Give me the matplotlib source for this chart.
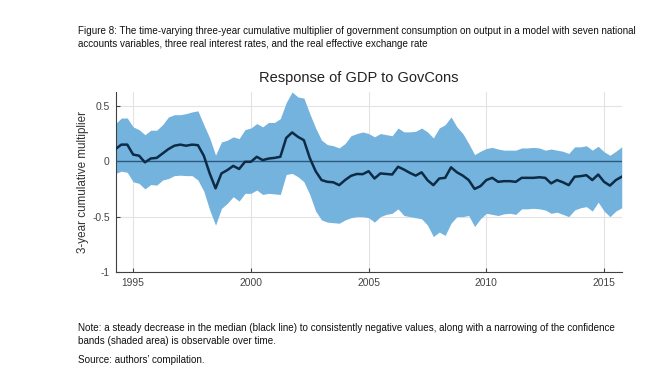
import numpy as np
import matplotlib
matplotlib.use("Agg")
import matplotlib.pyplot as plt

plt.rcParams['font.family'] = ['Liberation Sans', 'DejaVu Sans']

# quarterly observations 1994Q2 .. 2015Q4
start_year = 1994.25
median = [0.11, 0.15, 0.15, 0.06, 0.05, -0.01, 0.025, 0.03, 0.07, 0.11,
          0.14, 0.15, 0.14, 0.15, 0.145, 0.05, -0.11, -0.245, -0.11, -0.08,
          -0.042, -0.07, -0.005, -0.005, 0.04, 0.01, 0.024, 0.03, 0.04, 0.21,
          0.26, 0.22, 0.19, 0.03, -0.09, -0.17, -0.186, -0.19, -0.216, -0.17,
          -0.132, -0.115, -0.117, -0.09, -0.156, -0.11, -0.115, -0.12, -0.05, -0.075,
          -0.105, -0.13, -0.10, -0.171, -0.216, -0.156, -0.15, -0.055, -0.10, -0.13,
          -0.17, -0.25, -0.225, -0.17, -0.15, -0.186, -0.18, -0.18, -0.186, -0.15,
          -0.15, -0.15, -0.145, -0.15, -0.20, -0.17, -0.19, -0.216, -0.14, -0.135,
          -0.126, -0.17, -0.12, -0.186, -0.22, -0.17, -0.14]
upper = [0.34, 0.39, 0.39, 0.31, 0.285, 0.24, 0.28, 0.28, 0.33, 0.40,
         0.42, 0.42, 0.43, 0.445, 0.455, 0.33, 0.21, 0.055, 0.174, 0.19,
         0.22, 0.204, 0.285, 0.30, 0.34, 0.31, 0.35, 0.35, 0.385, 0.53,
         0.625, 0.58, 0.57, 0.43, 0.30, 0.19, 0.15, 0.14, 0.12, 0.16,
         0.23, 0.25, 0.264, 0.25, 0.22, 0.25, 0.24, 0.23, 0.30, 0.265,
         0.265, 0.27, 0.30, 0.264, 0.21, 0.30, 0.33, 0.40, 0.31, 0.25,
         0.16, 0.06, 0.09, 0.115, 0.125, 0.11, 0.10, 0.10, 0.10, 0.12,
         0.12, 0.125, 0.12, 0.10, 0.11, 0.10, 0.09, 0.07, 0.13, 0.13,
         0.14, 0.10, 0.135, 0.085, 0.054, 0.09, 0.13]
lower = [-0.11, -0.09, -0.10, -0.186, -0.20, -0.25, -0.21, -0.216, -0.17, -0.156,
         -0.13, -0.126, -0.13, -0.13, -0.17, -0.27, -0.44, -0.577, -0.426, -0.38,
         -0.32, -0.36, -0.29, -0.29, -0.26, -0.30, -0.29, -0.295, -0.30, -0.12,
         -0.11, -0.14, -0.185, -0.30, -0.45, -0.53, -0.55, -0.555, -0.56, -0.53,
         -0.51, -0.50, -0.50, -0.51, -0.55, -0.50, -0.48, -0.47, -0.43, -0.49,
         -0.50, -0.51, -0.52, -0.577, -0.68, -0.64, -0.67, -0.56, -0.50, -0.50,
         -0.49, -0.59, -0.52, -0.47, -0.48, -0.49, -0.475, -0.47, -0.48, -0.43,
         -0.43, -0.425, -0.43, -0.44, -0.47, -0.46, -0.48, -0.50, -0.44, -0.42,
         -0.41, -0.45, -0.37, -0.45, -0.50, -0.45, -0.42]
years = start_year + 0.25 * np.arange(len(median))

xticks = [1995, 2000, 2005, 2010, 2015]
yticks = [-1, -0.5, 0, 0.5]
ytick_labels = ['-1', '-0.5', '0', '0.5']

title = "Response of GDP to GovCons"
ylabel = "3-year cumulative multiplier"
caption = ("Figure 8: The time-varying three-year cumulative multiplier of government consumption on output in a model with seven national\n"
           "accounts variables, three real interest rates, and the real effective exchange rate")
note = ("Note: a steady decrease in the median (black line) to consistently negative values, along with a narrowing of the confidence\n"
        "bands (shaded area) is observable over time.")
source = "Source: authors\u2019 compilation."

fig = plt.figure(figsize=(6.45, 3.67), dpi=100)
ax = fig.add_axes([0.1798, 0.2589, 0.7845, 0.4904])

ax.fill_between(years, lower, upper, color='#74b3de', lw=0, zorder=2)
ax.axhline(0, color='#2b5a80', lw=1.0, zorder=3)
ax.plot(years, median, color='#0d2b45', lw=1.8, zorder=4)

ax.set_xlim(1994.27, 2015.76)
ax.set_ylim(-1, 0.625)
ax.set_xticks(xticks)
ax.set_yticks(yticks)
ax.set_yticklabels(ytick_labels)
ax.grid(True, color='#e3e3e3', lw=0.8, zorder=0)
ax.set_axisbelow(True)
for s in ['top', 'right']:
    ax.spines[s].set_visible(False)
for s in ['left', 'bottom']:
    ax.spines[s].set_color('#404040')
    ax.spines[s].set_linewidth(0.8)
ax.tick_params(direction='in', length=3, width=0.8, color='#404040',
               labelsize=7.4, labelcolor='#444444', pad=4.5)
ax.set_title(title, fontsize=10.5, color='#222222', pad=7, x=0.48)
ax.set_ylabel(ylabel, fontsize=8.4, color='#333333', labelpad=2)

fig.text(0.121, 0.93, caption, fontsize=7.08, color='#111111', va='top', linespacing=1.42)
fig.text(0.121, 0.12, note, fontsize=7.08, color='#111111', va='top', linespacing=1.42)
fig.text(0.121, 0.033, source, fontsize=7.08, color='#111111', va='top')

fig.savefig('out.png', dpi=100)
